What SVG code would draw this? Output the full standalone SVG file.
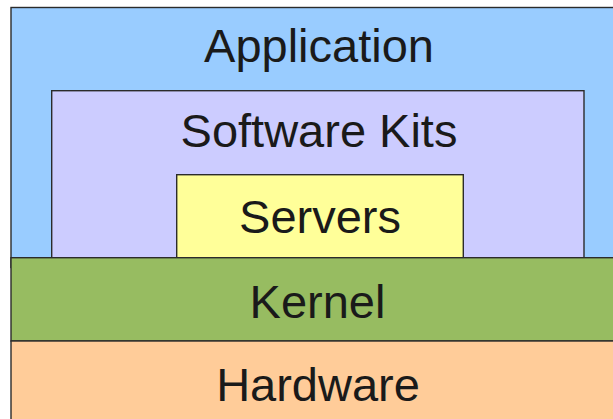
<svg xmlns="http://www.w3.org/2000/svg" width="613" height="419" viewBox="0 0 613 419">
<style>
.box{stroke:#2b2b2b;stroke-width:1.4}
.lbl{font-family:"Liberation Sans",Arial,sans-serif;font-size:47px;fill:#1a1a1a;text-anchor:middle}
</style>
<rect width="613" height="419" fill="#ffffff"/>
<g id="application">
<rect class="box" x="11" y="7.5" width="610" height="260" fill="#99ccff"/>
<text class="lbl" x="319" y="62.3">Application</text>
</g>
<g id="software-kits">
<rect class="box" x="51.7" y="90.7" width="532.3" height="167" fill="#ccccff"/>
<text class="lbl" x="319" y="147.3">Software Kits</text>
</g>
<g id="servers">
<rect class="box" x="176.7" y="174.7" width="286.6" height="83" fill="#ffff99"/>
<text class="lbl" x="320" y="233.3">Servers</text>
</g>
<g id="kernel">
<rect class="box" x="11" y="257.7" width="610" height="83.3" fill="#97bc61"/>
<text class="lbl" x="317.5" y="317.7">Kernel</text>
</g>
<g id="hardware">
<rect class="box" x="11" y="341" width="610" height="90" fill="#ffcc99"/>
<text class="lbl" x="318" y="401">Hardware</text>
</g>
<g id="connectors"/>
</svg>
